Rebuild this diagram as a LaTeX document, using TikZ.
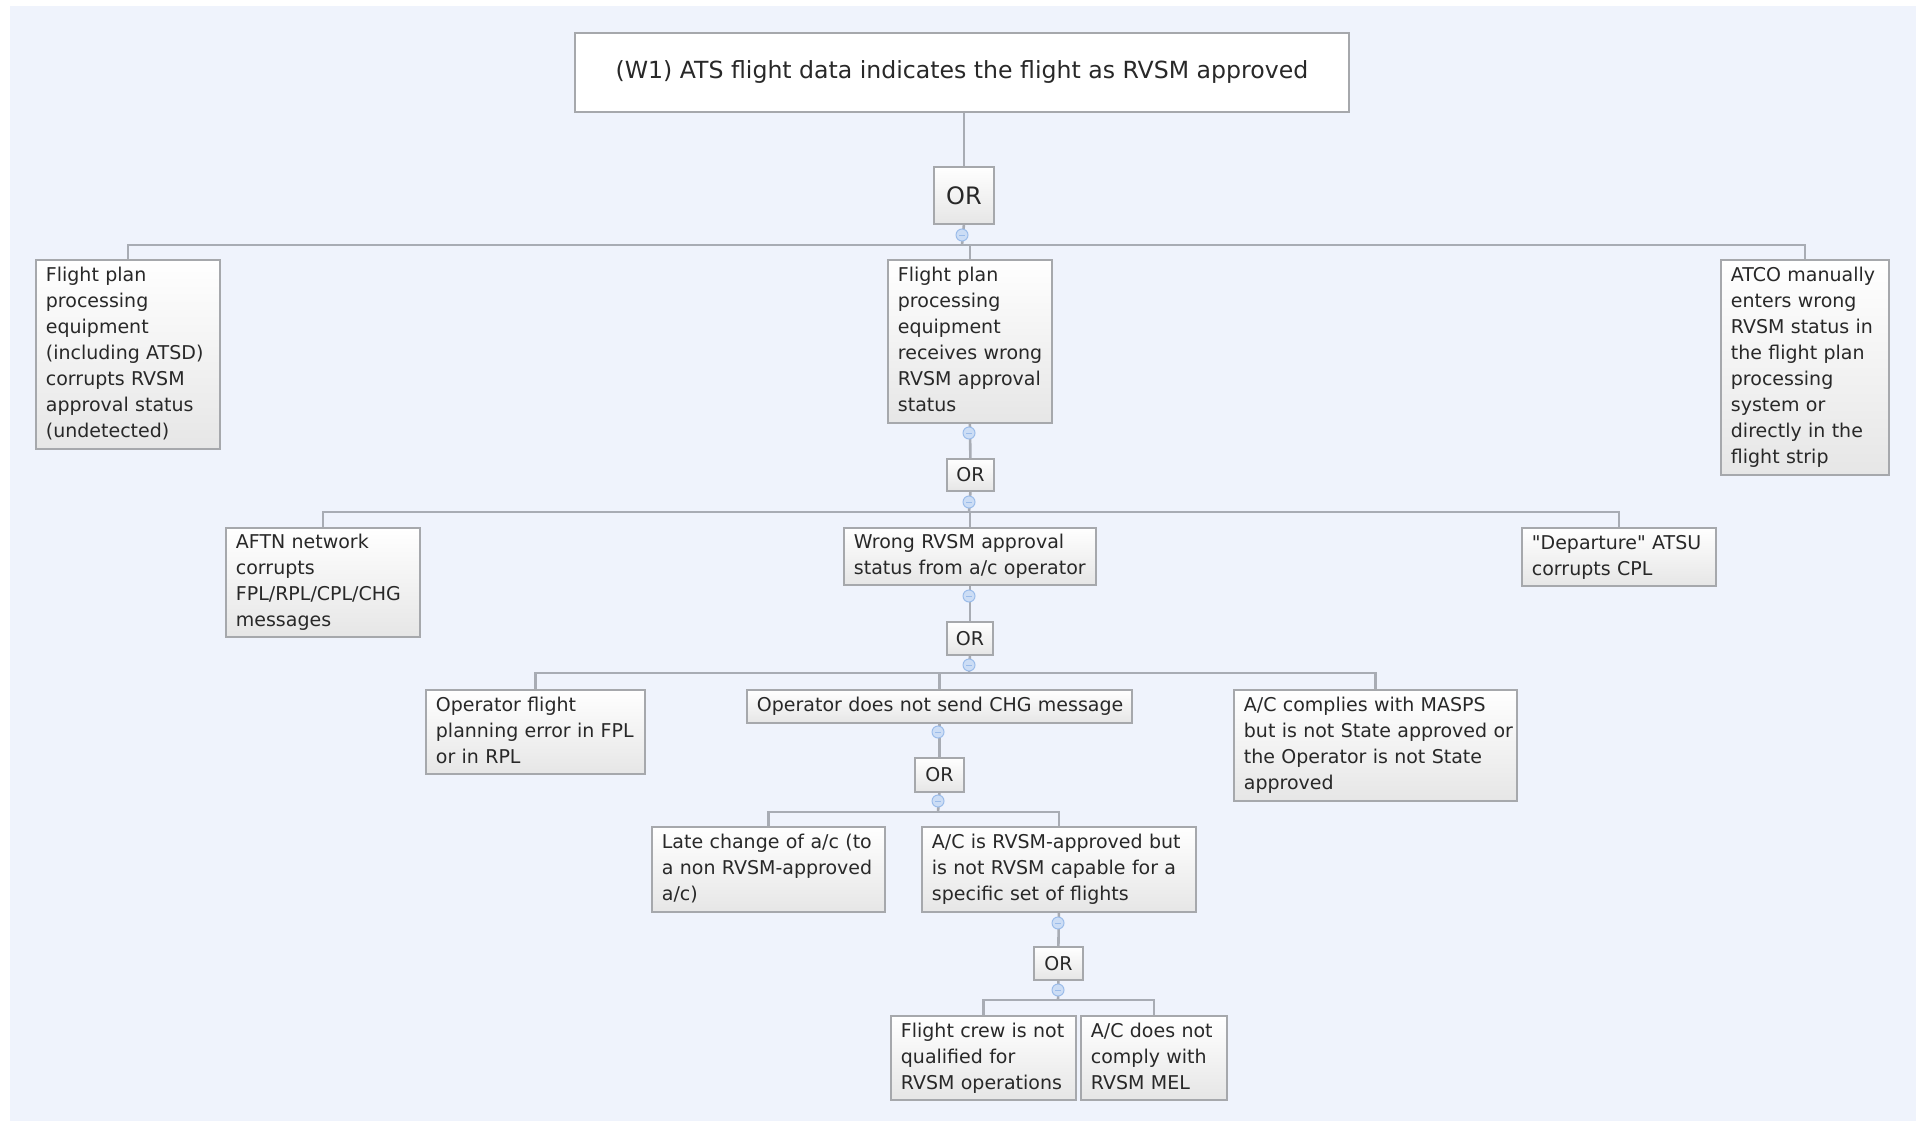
\documentclass[tikz,border=0pt]{standalone}
\usepackage{fontspec}
\setmainfont{DejaVu Sans}[Ligatures=TeXOff]
\definecolor{bg}{RGB}{239,243,252}
\definecolor{edge}{RGB}{166,168,172}
\definecolor{wire}{RGB}{168,172,180}
\definecolor{ink}{RGB}{40,40,40}
\definecolor{shadebot}{RGB}{230,230,230}
\definecolor{mfill}{RGB}{204,221,245}
\definecolor{mdraw}{RGB}{155,188,234}
\newcommand\boxlines[1]{\begin{tabular}{@{}l@{}}#1\end{tabular}}
% event box given by its corners (x1,y1)-(x2,y2), y counted downwards
\newcommand\eventbox[6]{%
  \pgfmathsetmacro\bw{#4-#2}\pgfmathsetmacro\bh{#5-#3}\pgfmathsetmacro\tw{#4-#2-20}%
  \node[evbox, minimum width=\bw pt, minimum height=\bh pt, text width=\tw pt,
        anchor=north west] (#1) at (#2,#3) {\boxlines{#6}};}
\newcommand\gatebox[5]{%
  \pgfmathsetmacro\bw{#4-#2}\pgfmathsetmacro\bh{#5-#3}%
  \node[orbox, minimum width=\bw pt, minimum height=\bh pt, anchor=north west] (#1) at (#2,#3) {OR};}
\tikzset{
  evbox/.style={draw=edge, line width=1.8pt, top color=white, bottom color=shadebot,
    inner xsep=10pt, inner ysep=2pt, align=left, text=ink,
    font=\fontsize{19}{26}\selectfont},
  orbox/.style={draw=edge, line width=1.8pt, top color=white, bottom color=shadebot,
    inner sep=0pt, text=ink, font=\fontsize{19}{26}\selectfont},
  conn/.style={draw=wire, line width=2.6pt},
  marker/.style={circle, minimum size=12pt, inner sep=0pt, fill=mfill, draw=mdraw, line width=1pt,
    path picture={\draw[mdraw, line width=1pt] ([xshift=-3pt]path picture bounding box.center) -- ([xshift=3pt]path picture bounding box.center);}}
}
\begin{document}
\begin{tikzpicture}[x=1pt, y=-1pt]
\useasboundingbox (0,0) rectangle (1916,1121);
\fill[bg] (10,6) rectangle (1916,1121);

% root event
\node[draw=edge, line width=1.8pt, fill=white, minimum width=774pt, minimum height=79pt,
      anchor=north west, text=ink, font=\fontsize{23.6}{26}\selectfont] (top) at (574,32)
      {(W1) ATS flight data indicates the flight as RVSM approved};
\node[orbox, minimum width=60pt, minimum height=57pt, anchor=north west,
      font=\fontsize{24}{26}\selectfont] (or1) at (933,166) {OR};

% first level
\eventbox{a}{35}{259}{219}{448}{Flight plan\\processing\\equipment\\(including ATSD)\\corrupts RVSM\\approval status\\(undetected)}
\eventbox{b}{887}{259}{1051}{422}{Flight plan\\processing\\equipment\\receives wrong\\RVSM approval\\status}
\eventbox{c}{1720}{259}{1888}{474}{ATCO manually\\enters wrong\\RVSM status in\\the flight plan\\processing\\system or\\directly in the\\flight strip}
\gatebox{or2}{946}{458}{993}{490}

% second level
\eventbox{aftn}{225}{527}{419}{636}{AFTN network\\corrupts\\FPL/RPL/CPL/CHG\\messages}
\eventbox{wrong}{843}{527}{1095}{584}{Wrong RVSM approval\\status from a/c operator}
\eventbox{dep}{1521}{527}{1715}{585}{"Departure" ATSU\\corrupts CPL}
\gatebox{or3}{946}{621}{992}{654}

% third level
\eventbox{opf}{425}{689}{644}{773}{Operator flight\\planning error in FPL\\or in RPL}
\eventbox{chg}{746}{689}{1131}{722}{Operator does not send CHG message}
\eventbox{acm}{1233}{689}{1516}{800}{A/C complies with MASPS\\but is not State approved or\\the Operator is not State\\approved}
\gatebox{or4}{914}{757}{963}{791}

% fourth level
\eventbox{late}{651}{826}{884}{911}{Late change of a/c (to\\a non RVSM-approved\\a/c)}
\eventbox{acr}{921}{826}{1195}{911}{A/C is RVSM-approved but\\is not RVSM capable for a\\specific set of flights}
\gatebox{or5}{1033}{946}{1082}{979}

% fifth level
\eventbox{crew}{890}{1015}{1075}{1099}{Flight crew is not\\qualified for\\RVSM operations}
\eventbox{mel}{1080}{1015}{1226}{1099}{A/C does not\\comply with\\RVSM MEL}

% collapse markers and branch junctions
\coordinate (m1) at (962,235);  \coordinate (j1) at (962,245);
\coordinate (m2) at (969,433);
\coordinate (m3) at (969,502);  \coordinate (j2) at (969,512);
\coordinate (m4) at (969,596);
\coordinate (m5) at (969,665);  \coordinate (j3) at (969,673);
\coordinate (m6) at (938,732);
\coordinate (m7) at (938,801);  \coordinate (j4) at (938,812);
\coordinate (m8) at (1058,923);
\coordinate (m9) at (1058,990); \coordinate (j5) at (1058,1000);

% connectors
\draw[conn] (or1.north |- top.south) -- (or1.north);
\draw[conn] (or1.south) -- (j1);
\draw[conn] (a.north) |- (j1) -| (c.north);
\draw[conn] (b.north) -- (b.north |- j1);
\draw[conn] (b.south) -- (or2.north);
\draw[conn] (or2.south) -- (j2);
\draw[conn] (aftn.north) |- (j2) -| (dep.north);
\draw[conn] (wrong.north) -- (wrong.north |- j2);
\draw[conn] (wrong.south) -- (or3.north);
\draw[conn] (or3.south) -- (j3);
\draw[conn] (opf.north) |- (j3) -| (acm.north);
\draw[conn] (chg.north) -- (chg.north |- j3);
\draw[conn] (chg.south) -- (or4.north);
\draw[conn] (or4.south) -- (j4);
\draw[conn] (late.north) |- (j4) -| (acr.north);
\draw[conn] (acr.south) -- (or5.north);
\draw[conn] (or5.south) -- (j5);
\draw[conn] (crew.north) |- (j5) -| (mel.north);

\foreach \m in {m1,m2,m3,m4,m5,m6,m7,m8,m9}
  \node[marker] (\m dot) at (\m) {};
\end{tikzpicture}
\end{document}
